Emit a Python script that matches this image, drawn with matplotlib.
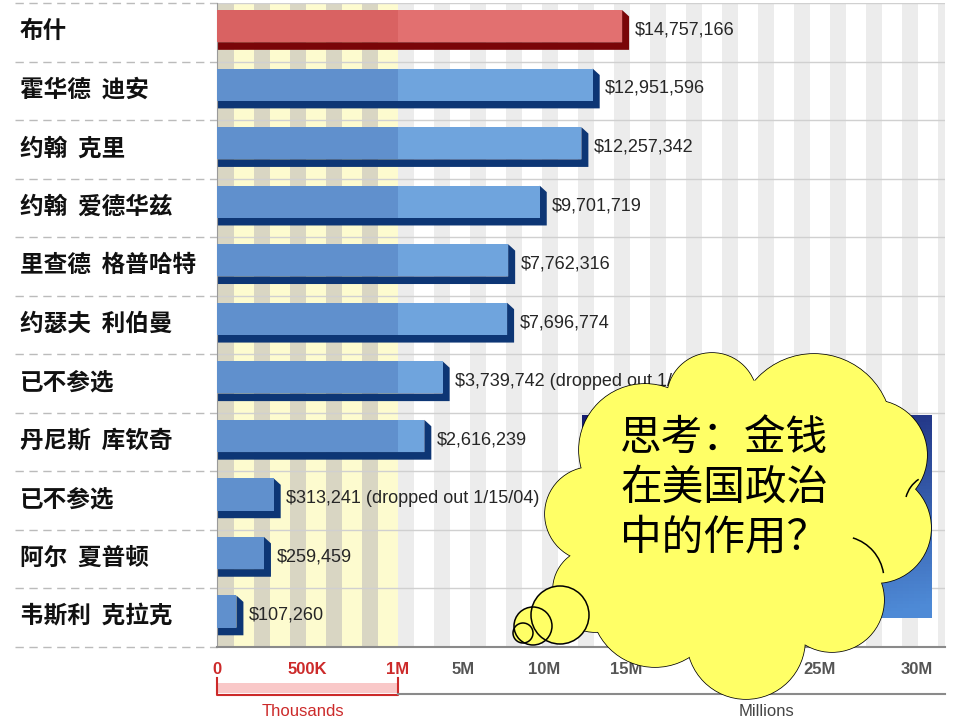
import numpy as np
import matplotlib
matplotlib.use("Agg")
import matplotlib.pyplot as plt
from matplotlib.patches import Polygon, Ellipse, Arc

plt.rcParams['font.family'] = ['Noto Sans CJK SC', 'DejaVu Sans']

# --------------------------------------------------------------------------- #
# data
# --------------------------------------------------------------------------- #
candidates = ["布什", "霍华德 迪安", "约翰 克里", "约翰 爱德华兹", "里查德 格普哈特",
              "约瑟夫 利伯曼", "已不参选", "丹尼斯 库钦奇", "已不参选", "阿尔 夏普顿",
              "韦斯利 克拉克"]
raised = [14757166, 12951596, 12257342, 9701719, 7762316, 7696774,
          3739742, 2616239, 313241, 259459, 107260]
notes = ["", "", "", "", "", "", " (dropped out 1/20/04)", "",
         " (dropped out 1/15/04)", "", ""]
tick_values = [0, 500e3, 1e6, 5e6, 10e6, 15e6, 20e6, 25e6, 30e6]
tick_labels = ["0", "500K", "1M", "5M", "10M", "15M", "20M", "25M", "30M"]
callout_lines = ["思考：金钱", "在美国政治", "中的作用？"]

# --------------------------------------------------------------------------- #
# broken axis: 0-1M linear ("Thousands"), compressed above 1M ("Millions")
# --------------------------------------------------------------------------- #
K1, K2 = 0.09, 0.107
U15 = 1 + 14 * K1


def fwd(v):
    m = np.asarray(v, float) / 1e6
    return np.where(m <= 1, m, np.where(m <= 15, 1 + (m - 1) * K1, U15 + (m - 15) * K2))


def inv(u):
    u = np.asarray(u, float)
    m = np.where(u <= 1, u, np.where(u <= U15, 1 + (u - 1) / K1, 15 + (u - U15) / K2))
    return m * 1e6


PX = 181.0  # pixels per scale unit
fig = plt.figure(figsize=(9.6, 7.2), dpi=100)
ax = fig.add_axes([217 / 960, 1 - 647 / 720, 728 / 960, 644 / 720])
ax.set_xscale('function', functions=(fwd, inv))
ax.set_xlim(0, float(inv(728 / PX)))
n = len(candidates)
ax.set_ylim(n, 0)
ax.set_yticks([])

# background stripes
ax.axvspan(0, 1e6, color='#fdfbcf', lw=0, zorder=0)
for k in range(21):
    u0 = (1 + 36 * k) / PX
    c = '#d9d6c3' if u0 < 1 else '#ececec'
    ax.axvspan(float(inv(u0)), float(inv(u0 + 16 / PX)), color=c, lw=0, zorder=0)

for i in range(n):
    ax.axhline(i, color='#d0d0d0', lw=1, zorder=1)

for s in ['top', 'right']:
    ax.spines[s].set_visible(False)
ax.spines['left'].set_color('#9a9a9a')
ax.spines['bottom'].set_color('#8a8a8a')
ax.spines['bottom'].set_linewidth(1.5)

# bars with a simple 3D look
for i, (v, note) in enumerate(zip(raised, notes)):
    red = i == 0
    c_in, c_out, c_dark = (('#d96262', '#e27070', '#7a0508') if red
                           else ('#6090cd', '#6fa4dd', '#0d3675'))
    top, mid, bot = i + 0.12, i + 0.67, i + 0.80
    xd = float(inv(fwd(v) + 7 / PX))
    ax.add_patch(Polygon([(0, bot), (xd, bot), (xd, top + 0.11), (v, top), (v, mid), (0, mid)],
                         closed=True, fc=c_dark, ec='none', zorder=2))
    ax.barh((top + mid) / 2, min(v, 1e6), height=mid - top, left=0, color=c_in, lw=0, zorder=3)
    if v > 1e6:
        ax.barh((top + mid) / 2, v - 1e6, height=mid - top, left=1e6, color=c_out, lw=0, zorder=3)
    ax.annotate(f"${v:,}{note}", xy=(xd, i + 0.46), xytext=(4, 0), textcoords='offset points',
                va='center', ha='left', fontsize=13, family='Liberation Sans', color='#262626',
                zorder=4)

# candidate names + dashed separators
ytr = ax.get_yaxis_transform()
for i, name in enumerate(candidates):
    ax.text(-197 / 728, i + 0.48, name.replace(" ", "  "), transform=ytr, ha='left', va='center',
            fontsize=17, fontweight='bold', color='#111111', family='Noto Sans CJK SC')
for i in range(n + 1):
    ax.plot([-202 / 728, 0], [i, i], transform=ytr, ls=(0, (6, 4)), color='#bbbbbb',
            lw=1, clip_on=False)

# x ticks
ax.set_xticks(tick_values, tick_labels)
ax.tick_params(axis='x', length=0, pad=11)
for lbl, v in zip(ax.get_xticklabels(), tick_values):
    lbl.set_color('#cc2a2a' if v <= 1e6 else '#555555')
    lbl.set_fontfamily('Liberation Sans')
    lbl.set_fontweight('bold')
    lbl.set_fontsize(12)


# Thousands / Millions brackets
def yf(py):
    return (647 - py) / 644


xtr = ax.get_xaxis_transform()
ax.fill_between([0, 1e6], yf(693), yf(683), transform=xtr, color='#f9c8c8', lw=0, clip_on=False)
ax.plot([0, 0, 1e6, 1e6], [yf(678), yf(695), yf(695), yf(678)], transform=xtr,
        color='#cc2a2a', lw=1.5, clip_on=False)
ax.plot([1e6, ax.get_xlim()[1]], [yf(694), yf(694)], transform=xtr, color='#8a8a8a',
        lw=1.5, clip_on=False)
ax.text(float(inv(0.475)), yf(712), "Thousands", transform=xtr, ha='center', va='center',
        fontsize=12, color='#cc2a2a', family='Liberation Sans')
ax.text(float(inv((767 - 217) / PX)), yf(712), "Millions", transform=xtr, ha='center',
        va='center', fontsize=12, color='#444444', family='Liberation Sans')

# --------------------------------------------------------------------------- #
# overlay: dark panel + thought cloud (pixel coordinates)
# --------------------------------------------------------------------------- #
ov = fig.add_axes([0, 0, 1, 1])
ov.set_xlim(0, 960)
ov.set_ylim(720, 0)
ov.axis('off')
ov.set_zorder(5)
ov.patch.set_visible(False)

gy, gx = np.mgrid[0:1:60j, 0:1:60j]
t = np.clip(0.8 * gy + 0.3 * gx - 0.05, 0, 1)[..., None]
c0 = np.array([22, 30, 112]) / 255
c1 = np.array([78, 138, 214]) / 255
ov.imshow(c0 * (1 - t) + c1 * t, extent=(582, 932, 618, 415), aspect='auto', zorder=1)

yellow = '#ffff66'
lobes = [(592, 514, 47), (645, 450, 66), (712, 398, 45), (814, 432, 78),
         (872, 455, 55), (876, 528, 55), (832, 600, 52), (746, 640, 59),
         (655, 603, 64), (595, 590, 42)]
for cx, cy, r in lobes:
    ov.add_patch(Ellipse((cx, cy), 2 * r, 2 * r, fc=yellow, ec='black', lw=1.1, zorder=2))
for cx, cy, r in lobes:
    ov.add_patch(Ellipse((cx, cy), 2 * r, 2 * r, fc=yellow, ec='none', zorder=3))
ov.add_patch(Ellipse((740, 510), 320, 260, fc=yellow, ec='none', zorder=3))
ov.add_patch(Arc((840, 580), 88, 88, theta1=-73, theta2=-9, color='black', lw=1.1, zorder=4))
ov.add_patch(Arc((936, 505), 62, 62, theta1=195, theta2=236, color='black', lw=1.1, zorder=4))

# thought bubbles: fills first, then every outline on top
bubbles = [(560, 615, 29), (533, 626, 19), (523, 633, 10)]
for cx, cy, r in bubbles:
    ov.add_patch(Ellipse((cx, cy), 2 * r, 2 * r, fc=yellow, ec='none', zorder=5))
for cx, cy, r in bubbles:
    ov.add_patch(Ellipse((cx, cy), 2 * r, 2 * r, fc='none', ec='black', lw=1.1, zorder=6))

for j, line in enumerate(callout_lines):
    ov.text(620, 438 + 50 * j, line, fontsize=30, ha='left', va='center', color='black',
            zorder=7)

fig.savefig("out.png", dpi=100, facecolor='white')
